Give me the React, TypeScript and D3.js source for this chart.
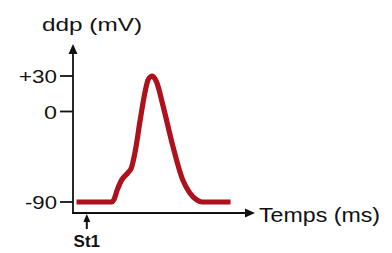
import React from 'react';
import * as d3 from 'd3';

// potentiel d'action : temps (ms, unité arbitraire) / ddp (mV)
const temps = [0.2, 2.2, 2.3, 2.5, 2.75, 3.1, 3.3, 3.5, 3.8, 4.05, 4.25, 4.48, 4.72, 5.1, 5.65, 6.2, 6.6, 7.0, 7.3, 8.9];
const ddp = [-90, -90, -88, -78, -68, -61, -56, -41, -8, 15, 27, 30, 25, 4, -35, -68, -81, -88, -90, -90];

const tickValues = [-90, 0, 30];
const tickLabels = ['-90', '0', '+30'];
const tickWidths = [32, 13, 38];

const width = 392;
const height = 253;
const font = '"Liberation Sans", Arial, sans-serif';

export default function App() {
  const x0 = 73;
  const xAxisY = 213;

  const xScale = d3.scaleLinear().domain([0, 10]).range([x0, 250]);
  // échelle non linéaire sur le schéma : -90 est plus serré
  const yScale = d3.scaleLinear().domain([-90, 0, 30]).range([202, 111.5, 76]);

  const pts: [number, number][] = temps.map((t, i) => [t, ddp[i]]);
  const line = d3.line<[number, number]>()
    .x(d => xScale(d[0]))
    .y(d => yScale(d[1]))
    .curve(d3.curveMonotoneX);

  const st1X = xScale(0.78);

  return (
    <svg width={width} height={height} style={{ position: 'absolute', left: 0, top: 0, background: '#fff' }}>
      {/* axe vertical */}
      <line x1={x0} y1={xAxisY} x2={x0} y2={50} stroke="#111" strokeWidth={1.8} />
      <path d={`M${x0},44 L${x0 - 4.5},54 L${x0 + 4.5},54 Z`} fill="#111" />
      <text x={42} y={31} fontFamily={font} fontSize={19} textLength={100} lengthAdjust="spacingAndGlyphs" fill="#111">ddp (mV)</text>

      {/* axe horizontal */}
      <line x1={x0 - 1} y1={xAxisY} x2={247} y2={xAxisY} stroke="#111" strokeWidth={1.8} />
      <path d={`M255,${xAxisY} L245,${xAxisY - 4.5} L245,${xAxisY + 4.5} Z`} fill="#111" />
      <text x={259} y={222} fontFamily={font} fontSize={20} textLength={121} lengthAdjust="spacingAndGlyphs" fill="#111">Temps (ms)</text>

      {/* graduations */}
      {tickValues.map((v, i) => (
        <g key={v}>
          <line x1={60} x2={x0} y1={yScale(v)} y2={yScale(v)} stroke="#111" strokeWidth={1.8} />
          <text x={57 - tickWidths[i]} y={yScale(v) + 7} fontFamily={font} fontSize={19}
            textLength={tickWidths[i]} lengthAdjust="spacingAndGlyphs" fill="#111">{tickLabels[i]}</text>
        </g>
      ))}

      {/* stimulation St1 */}
      <line x1={st1X} y1={220} x2={st1X} y2={229} stroke="#111" strokeWidth={2} />
      <path d={`M${st1X},214 L${st1X - 3.5},222 L${st1X + 3.5},222 Z`} fill="#111" />
      <text x={st1X} y={247} textAnchor="middle" fontFamily={font} fontSize={17} fontWeight="bold" fill="#111">St1</text>

      {/* tracé */}
      <path d={line(pts) ?? ''} fill="none" stroke="#ad111c" strokeWidth={5.2} strokeLinejoin="round" strokeLinecap="butt" />
    </svg>
  );
}
